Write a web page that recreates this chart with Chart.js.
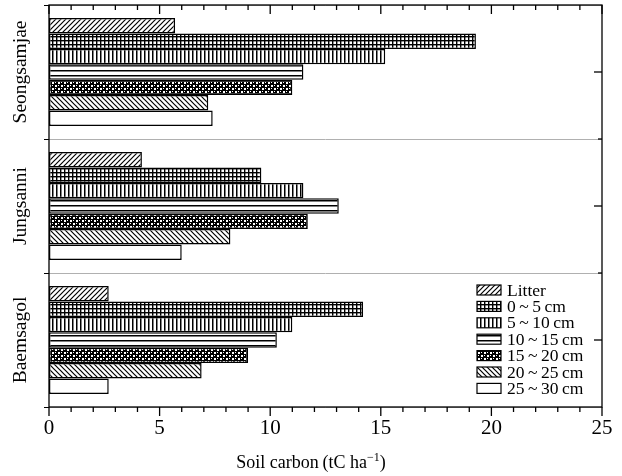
<!DOCTYPE html>
<html>
<head>
<meta charset="utf-8">
<script src="https://cdn.jsdelivr.net/npm/chart.js@4/dist/chart.umd.min.js"></script>
<style>
  body { margin: 0; background: #fff; }
</style>
</head>
<body>
<canvas id="soilChart" width="622" height="476"></canvas>
<script>
// Sites (top to bottom)
const sites = ['Seongsamjae', 'Jungsanni', 'Baemsagol'];
const layers = ['Litter', '0\u2009~\u20095\u2009cm', '5\u2009~\u200910\u2009cm', '10\u2009~\u200915\u2009cm', '15\u2009~\u200920\u2009cm', '20\u2009~\u200925\u2009cm', '25\u2009~\u200930\u2009cm'];

// Soil carbon (tC ha-1), one value per site
const litter = [5.7, 4.2, 2.7];
const depth0to5 = [19.3, 9.6, 14.2];
const depth5to10 = [15.2, 11.5, 11.0];
const depth10to15 = [11.5, 13.1, 10.3];
const depth15to20 = [11.0, 11.7, 9.0];
const depth20to25 = [7.2, 8.2, 6.9];
const depth25to30 = [7.4, 6.0, 2.7];

const xTicks = [0, 5, 10, 15, 20, 25];

const serif = "'Liberation Serif', 'Times New Roman', serif";

// hatch patterns
function makePattern(size, draw) {
  const c = document.createElement('canvas');
  c.width = size; c.height = size;
  const g = c.getContext('2d');
  g.fillStyle = '#fff';
  g.fillRect(0, 0, size, size);
  g.fillStyle = '#000';
  g.strokeStyle = '#000';
  draw(g, size);
  return g.createPattern(c, 'repeat');
}

const patterns = [
  makePattern(5, (g, s) => { g.lineWidth = 1.2; g.beginPath(); g.moveTo(-1, s + 1); g.lineTo(s + 1, -1); g.moveTo(-1, 1); g.lineTo(1, -1); g.moveTo(s - 1, s + 1); g.lineTo(s + 1, s - 1); g.stroke(); }),
  makePattern(4, (g, s) => { g.fillRect(0, 0, s, 1.4); g.fillRect(0, 0, 1.4, s); }),
  makePattern(4, (g, s) => { g.fillRect(0, 0, 1.5, s); }),
  makePattern(5, (g, s) => { g.fillRect(0, 0, s, 1.5); }),
  makePattern(6, (g, s) => { g.fillRect(0, 0, s, s); g.fillStyle = '#fff'; g.fillRect(1, 1, 2, 2); g.fillRect(4, 4, 2, 2); g.fillRect(4, 1, 1, 1); g.fillRect(1, 4, 1, 1); }),
  makePattern(5, (g, s) => { g.lineWidth = 1.2; g.beginPath(); g.moveTo(-1, -1); g.lineTo(s + 1, s + 1); g.moveTo(s - 1, -1); g.lineTo(s + 1, 1); g.moveTo(-1, s - 1); g.lineTo(1, s + 1); g.stroke(); }),
  '#fff'
];

const seriesValues = [litter, depth0to5, depth5to10, depth10to15, depth15to20, depth20to25, depth25to30];

// frame, ticks, rotated site labels, axis title, legend
const decorations = {
  id: 'decorations',
  afterDraw(chart) {
    const { ctx, chartArea: a, scales: { x, y } } = chart;
    const line = (x1, y1, x2, y2) => { ctx.beginPath(); ctx.moveTo(x1, y1); ctx.lineTo(x2, y2); ctx.stroke(); };
    ctx.save();
    ctx.strokeStyle = '#000';
    ctx.lineWidth = 1.3;
    ctx.strokeRect(a.left, a.top, a.right - a.left, a.bottom - a.top);

    for (let v = 0; v <= 25; v++) {
      const px = x.getPixelForValue(v);
      const major = v % 5 === 0;
      line(px, a.bottom, px, a.bottom + (major ? 9 : 5));
      line(px, a.top, px, a.top + (major ? 9 : 5));
    }
    sites.forEach((s, i) => {
      const py = y.getPixelForValue(i);
      line(a.right, py, a.right - 8, py);
      if (i > 0) {
        const pb = y.getPixelForValue(i - 0.5);
        line(a.right, pb, a.right - 4, pb);
      }
      ctx.save();
      ctx.translate(a.left - 28, py);
      ctx.rotate(-Math.PI / 2);
      ctx.fillStyle = '#000';
      ctx.font = '19.5px ' + serif;
      ctx.textAlign = 'center';
      ctx.textBaseline = 'middle';
      ctx.fillText(s, 0, 0);
      ctx.restore();
    });

    // x axis title with superscript
    ctx.fillStyle = '#000';
    ctx.textBaseline = 'alphabetic';
    const t1 = 'Soil carbon\u2009(tC ha', t2 = '\u22121', t3 = ')';
    ctx.font = '12px ' + serif;
    const w2 = ctx.measureText(t2).width;
    ctx.font = '18px ' + serif;
    const w1 = ctx.measureText(t1).width, w3 = ctx.measureText(t3).width;
    let tx = chart.width / 2 - (w1 + w2 + w3) / 2;
    const ty = 468;
    ctx.textAlign = 'left';
    ctx.fillText(t1, tx, ty); tx += w1;
    ctx.font = '12px ' + serif;
    ctx.fillText(t2, tx, ty - 7); tx += w2;
    ctx.font = '18px ' + serif;
    ctx.fillText(t3, tx, ty);

    // legend
    const lx = a.right - 125, ly0 = a.bottom - 117, step = 16.4;
    ctx.font = '17.5px ' + serif;
    ctx.textBaseline = 'middle';
    chart.data.datasets.forEach((ds, i) => {
      const cy = ly0 + i * step;
      ctx.fillStyle = ds.backgroundColor;
      ctx.fillRect(lx, cy - 5, 24, 10);
      ctx.lineWidth = 1.2;
      ctx.strokeRect(lx, cy - 5, 24, 10);
      ctx.fillStyle = '#000';
      ctx.fillText(ds.label, lx + 30, cy + 1);
    });
    ctx.restore();
  }
};

new Chart(document.getElementById('soilChart'), {
  type: 'bar',
  data: {
    labels: sites,
    datasets: layers.map((name, i) => ({
      label: name,
      data: seriesValues[i],
      backgroundColor: patterns[i],
      borderColor: '#000',
      borderWidth: 1.5,
      borderSkipped: false,
      barPercentage: 1,
      categoryPercentage: 0.805,
    }))
  },
  options: {
    indexAxis: 'y',
    responsive: false,
    animation: false,
    layout: { padding: { top: 5, right: 20 } },
    plugins: {
      legend: { display: false },
      tooltip: { enabled: false },
    },
    scales: {
      x: {
        min: 0,
        max: 25,
        afterBuildTicks: (s) => { s.ticks = xTicks.map(v => ({ value: v })); },
        afterFit: (s) => { s.height = 69; },
        grid: { display: false },
        border: { display: false },
        ticks: { color: '#000', font: { family: serif, size: 21 }, padding: 1, maxRotation: 0 },
      },
      y: {
        afterFit: (s) => { s.width = 49; },
        grid: { color: '#b0b0b0', lineWidth: 1, tickLength: 5, tickColor: '#000', offset: true },
        border: { display: false },
        ticks: { display: false },
      }
    }
  },
  plugins: [decorations]
});
</script>
</body>
</html>
